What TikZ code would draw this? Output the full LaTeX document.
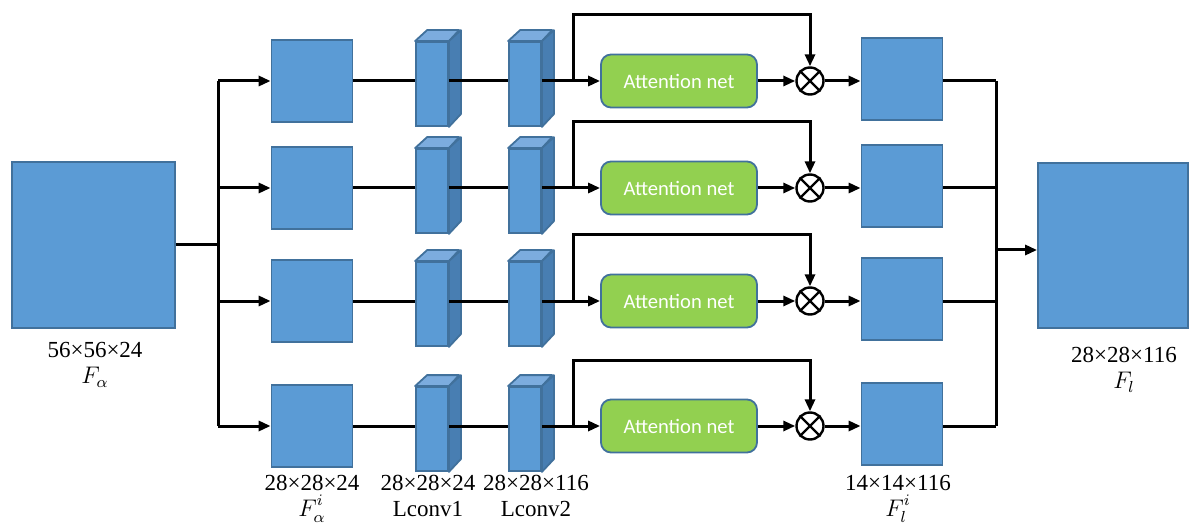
\documentclass[tikz,border=0pt]{standalone}
\usepackage{fontspec}
\setmainfont{Liberation Serif}
\newfontfamily\attfont{Carlito}
\usetikzlibrary{arrows.meta,calc,positioning}
\definecolor{mapblue}{RGB}{91,155,213}
\definecolor{mapedge}{RGB}{65,113,156}
\definecolor{maptop}{RGB}{124,172,222}
\definecolor{mapside}{RGB}{72,126,178}
\definecolor{attgreen}{RGB}{146,208,80}
\newcommand{\supi}{\raisebox{1pt}{$\scriptstyle i$}}

\begin{document}
\begin{tikzpicture}[x=0.5pt,y=-0.5pt,>={Triangle[length=6pt,width=5pt]},
  fmap/.style={draw=mapedge,fill=mapblue,line width=0.9pt,inner sep=0pt,minimum width=40.5pt,minimum height=41pt},
  bigmap/.style={fmap,minimum width=81.5pt,minimum height=83pt},
  convface/.style={fmap,minimum width=16pt,minimum height=42pt},
  attbox/.style={draw=mapedge,fill=attgreen,line width=0.9pt,rounded corners=5pt,minimum width=78pt,minimum height=26.5pt,
    text=white,font=\attfont\fontsize{10.3}{12}\selectfont},
  mulnode/.style={draw,circle,line width=1.2pt,minimum size=13.5pt,inner sep=0pt},
  conn/.style={line width=1.5pt},
  lbl/.style={font=\fontsize{11.5}{13}\selectfont,inner sep=0pt,align=center,anchor=north}]
  \useasboundingbox (0,0) rectangle (1190,524);

  % input and output feature maps
  \node[bigmap] (bigL) at (93.5,245) {};
  \node[bigmap,minimum width=75pt,minimum height=82.5pt] (bigR) at (1113,245.5) {};
  \node[lbl] (lblL) at (95,342) {56×56×24\\$F_\alpha$};
  \node[lbl] (lblR) at (1124,347) {28×28×116\\$F_l$};

  \coordinate (jL) at (218,245);
  \coordinate (jR) at (996,250);
  \draw[conn] (bigL.east) -- (jL);
  \draw[conn,->] (jR) -- (jR -| bigR.west);

  % the four branches
  \foreach \r/\y in {1/81,2/188,3/301,4/426}{
    \coordinate (br\r) at (218,\y);
    \node[fmap] (in\r) at (312,\y) {};
    \node[convface] (lcA\r) at (432,\y+3) {};
    \node[convface] (lcB\r) at (525,\y+3) {};
    \foreach \c in {lcA\r,lcB\r}{
      \fill[maptop,draw=mapedge,line width=0.9pt,line join=round]
        (\c.north west) -- ++(12,-11) -- ++(32,0) -- (\c.north east) -- cycle;
      \fill[mapside,draw=mapedge,line width=0.9pt,line join=round]
        (\c.north east) -- ++(12,-11) -- ++(0,84) -- (\c.south east) -- cycle;
    }
    \node[attbox] (att\r) at (679,\y) {Attention net};
    \node[mulnode] (mul\r) at (810,\y) {};
    \draw[line width=1.2pt] (mul\r.north west) -- (mul\r.south east)
      (mul\r.north east) -- (mul\r.south west);
    \node[fmap] (out\r) at (902,\y-2) {};
    \coordinate (sp\r) at (573,\y);
    \coordinate (up\r) at (573,\y-66);
    \coordinate (jo\r) at (996,\y);

    \draw[conn,->] (br\r) -- (in\r.west);
    \draw[conn] (in\r.east) -- (lcA\r.west |- in\r.east);
    \draw[conn] (lcA\r.east |- in\r.east) -- (lcB\r.west |- in\r.east);
    \draw[conn,->] (lcB\r.east |- in\r.east) -- (att\r.west);
    \draw[conn,->] (sp\r) -- (up\r) -| (mul\r.north);
    \draw[conn,->] (att\r.east) -- (mul\r.west);
    \draw[conn,->] (mul\r.east) -- (out\r.west |- mul\r.east);
    \draw[conn] (out\r.east |- mul\r.east) -- (jo\r);
  }
  \draw[conn] (br1) -- (br4);
  \draw[conn] (jo1) -- (jo4);

  % labels under the last branch
  \node[lbl] (lblIn) at (312,475) {28×28×24\\$F_\alpha^{\supi}$};
  \node[lbl] (lblA) at (428,475) {28×28×24\\Lconv1};
  \node[lbl] (lblB) at (536,475) {28×28×116\\Lconv2};
  \node[lbl] (lblOut) at (898,475) {14×14×116\\$F_l^{\supi}$};
\end{tikzpicture}
\end{document}
